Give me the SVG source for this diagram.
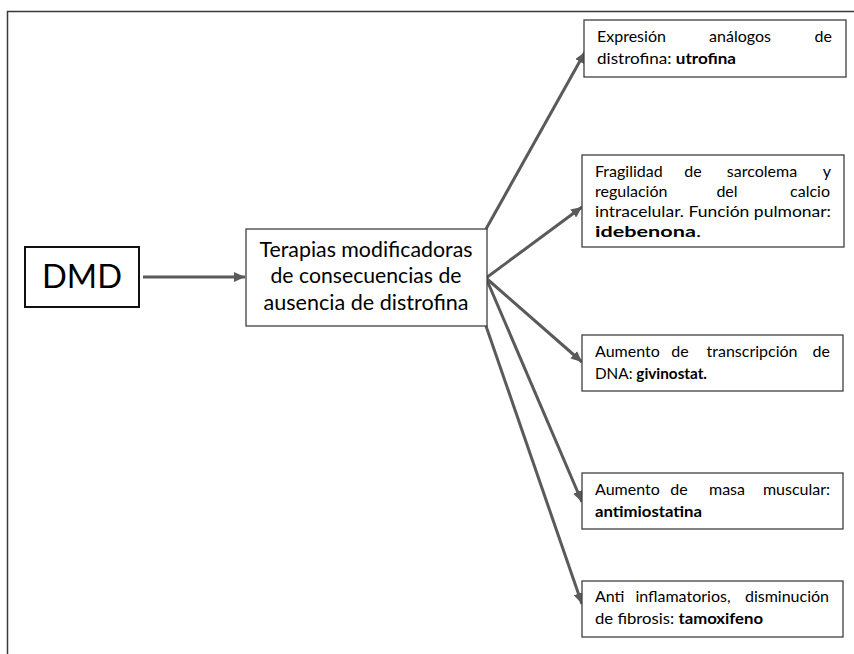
<svg xmlns="http://www.w3.org/2000/svg" width="854" height="654" viewBox="0 0 854 654">
<style>
.frame{stroke:#3a3a3a;stroke-width:1.5;fill:none}
.box{fill:#fff;stroke:#3f3f3f;stroke-width:1.3}
.dmd{fill:#fff;stroke:#111;stroke-width:2}
.con{stroke:#5a5a5a;stroke-width:3;fill:none;marker-end:url(#ah)}
.t{font-family:Lato,"Open Sans","Liberation Sans",sans-serif;fill:#000}
.s{font-size:16px}
.b{font-weight:bold}
.e{text-anchor:end}
.c{text-anchor:middle}
.m{font-size:22px;text-anchor:middle}
</style>
<defs>
<marker id="ah" markerUnits="userSpaceOnUse" markerWidth="12" markerHeight="10" refX="11" refY="5" orient="auto">
<path d="M0,0 L11,5 L0,10 Z" fill="#5a5a5a"/>
</marker>
</defs>
<rect width="854" height="654" fill="#fff"/>
<path class="frame" d="M7.5,654 V11.5 H854"/>
<g id="connectors">
<line class="con" x1="143" y1="277" x2="245" y2="277"/>
<line class="con" x1="486" y1="229" x2="585" y2="52"/>
<line class="con" x1="486" y1="278" x2="582" y2="207"/>
<line class="con" x1="486" y1="278" x2="582" y2="362"/>
<line class="con" x1="486" y1="278" x2="582" y2="502"/>
<line class="con" x1="486" y1="326" x2="582" y2="604"/>
</g>
<g id="dmd">
<rect class="dmd" x="25" y="247" width="114" height="60"/>
<text class="t" x="82" y="288" font-size="32" text-anchor="middle" textLength="80" lengthAdjust="spacingAndGlyphs">DMD</text>
</g>
<g id="terapias">
<rect class="box" x="246" y="229" width="241" height="97"/>
<text class="t m" x="366" y="257" textLength="213" lengthAdjust="spacingAndGlyphs">Terapias modificadoras</text>
<text class="t m" x="366" y="283" textLength="191" lengthAdjust="spacingAndGlyphs">de consecuencias de</text>
<text class="t m" x="366" y="310" textLength="205" lengthAdjust="spacingAndGlyphs">ausencia de distrofina</text>
</g>
<g id="utrofina">
<rect class="box" x="584" y="20" width="262" height="57"/>
<text class="t s" x="597" y="42">Expresión</text>
<text class="t s c" x="740" y="42">análogos</text>
<text class="t s e" x="832" y="42">de</text>
<text class="t s" x="597" y="64" textLength="139" lengthAdjust="spacingAndGlyphs">distrofina: <tspan class="b">utrofina</tspan></text>
</g>
<g id="idebenona">
<rect class="box" x="582" y="155" width="262" height="92"/>
<text class="t s" x="595" y="177">Fragilidad</text>
<text class="t s c" x="693" y="177">de</text>
<text class="t s c" x="762" y="177">sarcolema</text>
<text class="t s e" x="831" y="177">y</text>
<text class="t s" x="595" y="197">regulación</text>
<text class="t s c" x="727" y="197">del</text>
<text class="t s e" x="830" y="197">calcio</text>
<text class="t s" x="595" y="217" textLength="236" lengthAdjust="spacingAndGlyphs">intracelular. Función pulmonar:</text>
<text class="t s" x="595" y="237" textLength="106" lengthAdjust="spacingAndGlyphs"><tspan class="b">idebenona</tspan>.</text>
</g>
<g id="givinostat">
<rect class="box" x="582" y="335" width="261" height="56"/>
<text class="t s" x="595" y="357">Aumento</text>
<text class="t s c" x="680" y="357">de</text>
<text class="t s c" x="752" y="357">transcripción</text>
<text class="t s e" x="830" y="357">de</text>
<text class="t s" x="595" y="379" textLength="112" lengthAdjust="spacingAndGlyphs">DNA: <tspan class="b">givinostat.</tspan></text>
</g>
<g id="antimiostatina">
<rect class="box" x="582" y="473" width="261" height="56"/>
<text class="t s" x="595" y="495">Aumento</text>
<text class="t s c" x="679" y="495">de</text>
<text class="t s c" x="727" y="495">masa</text>
<text class="t s e" x="830" y="495">muscular:</text>
<text class="t s b" x="595" y="517" textLength="107" lengthAdjust="spacingAndGlyphs">antimiostatina</text>
</g>
<g id="tamoxifeno">
<rect class="box" x="582" y="581" width="261" height="56"/>
<text class="t s" x="595" y="602">Anti</text>
<text class="t s c" x="683" y="602">inflamatorios,</text>
<text class="t s e" x="829" y="602">disminución</text>
<text class="t s" x="595" y="624" textLength="168" lengthAdjust="spacingAndGlyphs">de fibrosis: <tspan class="b">tamoxifeno</tspan></text>
</g>
</svg>
